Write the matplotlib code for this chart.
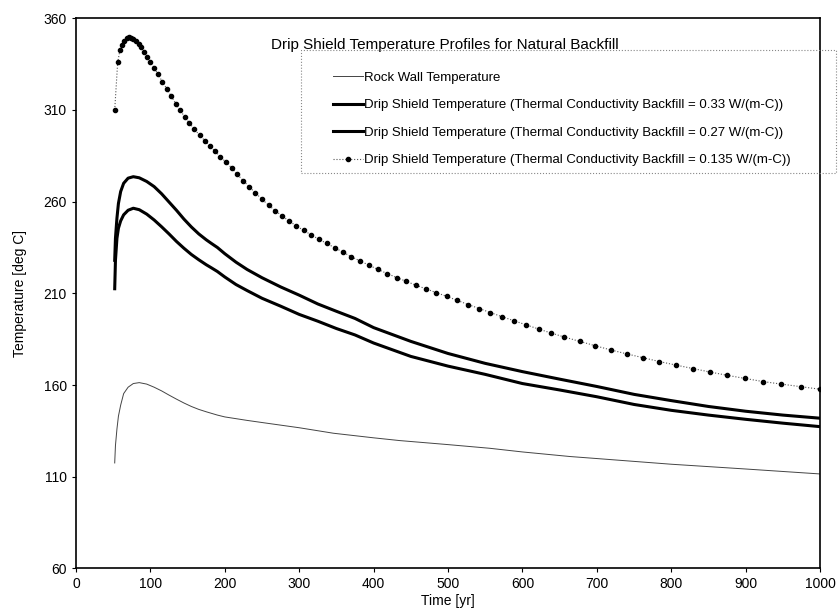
import matplotlib
matplotlib.use("Agg")
import matplotlib.pyplot as plt
from matplotlib.patches import Rectangle

plt.rcParams['font.family'] = ['Liberation Sans', 'DejaVu Sans']

# Rock wall temperature
t_rock = [52, 53, 55, 57, 60, 64, 70, 77, 85, 95, 105, 115, 125, 135, 145, 155, 165,
          175, 190, 200, 230, 256, 300, 346, 400, 435, 500, 556, 600, 664, 700, 800,
          900, 1000]
T_rock = [117.5, 127, 136, 143, 149, 155.3, 158.8, 160.8, 161.3, 160.5, 158.8, 156.8,
          154.5, 152.3, 150.2, 148.3, 146.7, 145.4, 143.6, 142.6, 140.7, 139.2, 136.7,
          133.7, 131.2, 129.7, 127.5, 125.5, 123.5, 121, 119.9, 116.8, 114.2, 111.5]

# drip shield, k = 0.33 and 0.27 (same time grid)
t_ds = [52, 53, 55, 57, 60, 64, 70, 77, 85, 95, 105, 115, 125, 135, 145, 155, 165, 175,
        182, 190, 200, 215, 230, 250, 275, 300, 325, 350, 375, 400, 450, 500, 550, 600,
        650, 700, 750, 800, 850, 900, 950, 1000]
T_033 = [212.5, 228, 240, 245.5, 249.5, 252.8, 255.3, 256.4, 255.6, 253.2, 250, 246.3,
         242.4, 238.3, 234.6, 231.2, 228.3, 225.6, 223.9, 221.9, 218.9, 214.8, 211.5,
         207.3, 203, 198.5, 194.8, 190.8, 187.3, 182.9, 175.6, 170.3, 165.8, 160.8,
         157.3, 153.6, 149.4, 146.2, 143.6, 141.3, 139.2, 137.3]
T_027 = [228, 240, 251, 259, 265.5, 270, 272.8, 273.6, 273, 271, 268.2, 264.3, 259.8,
         255.3, 250.5, 246.2, 242.4, 239.2, 237.2, 235.0, 231.6, 227, 223, 218.5, 213.5,
         209, 204.2, 200.2, 196.3, 191.3, 183.8, 177.2, 171.8, 167.3, 163.2, 159.2,
         154.9, 151.5, 148.3, 145.7, 143.6, 141.9]

# drip shield, k = 0.135 (one value per marker)
t_0135 = [52, 56, 59, 62, 65, 68, 71, 74, 77, 80, 84, 88, 92, 96, 100, 105, 110, 116,
          122, 128, 134, 140, 146, 152, 159, 166, 173, 180, 187, 194, 201, 209, 217,
          225, 233, 241, 250, 259, 268, 277, 286, 296, 306, 316, 326, 337, 348, 359,
          370, 382, 394, 406, 418, 431, 444, 457, 470, 484, 498, 512, 527, 542, 557,
          573, 589, 605, 622, 639, 656, 677, 698, 719, 740, 762, 784, 806, 829, 852,
          875, 899, 923, 948, 974, 1000]
T_0135 = [310, 336, 342.5, 345.5, 347.8, 349, 349.6, 349.5, 348.8, 347.8, 346.2, 344.2,
          341.8, 339, 336.3, 333, 329.5, 325.5, 321.5, 317.5, 313.5, 309.8, 306.3, 303,
          299.5, 296.3, 293.3, 290.3, 287.4, 284.5, 281.7, 278.5, 274.8, 271.3, 268,
          264.8, 261.3, 258, 255, 252.2, 249.5, 246.8, 244.3, 241.9, 239.6, 237.2,
          234.8, 232.4, 230, 227.6, 225.3, 223, 220.8, 218.6, 216.5, 214.4, 212.5,
          210.4, 208.4, 206.2, 203.9, 201.7, 199.5, 197.2, 195, 192.8, 190.5, 188.3,
          186.2, 183.8, 181.4, 179.1, 177, 174.9, 172.8, 170.9, 169, 167.1, 165.3,
          163.6, 161.9, 160.5, 159.1, 157.7]

fig = plt.figure(figsize=(8.4, 6.15), dpi=100)
ax = fig.add_axes([0.0905, 0.0758, 0.8857, 0.8945])

ax.plot(t_rock, T_rock, '-', color='#444444', lw=0.7, label='Rock Wall Temperature')
ax.plot(t_ds, T_033, '-', color='black', lw=2.2,
        label='Drip Shield Temperature (Thermal Conductivity Backfill = 0.33 W/(m-C))')
ax.plot(t_ds, T_027, '-', color='black', lw=2.2,
        label='Drip Shield Temperature (Thermal Conductivity Backfill = 0.27 W/(m-C))')
ax.plot(t_0135, T_0135, ':', color='#555555', lw=0.8, marker='o', ms=3.0,
        mfc='black', mec='black',
        label='Drip Shield Temperature (Thermal Conductivity Backfill = 0.135 W/(m-C))')

ax.set_xlim(0, 1000)
ax.set_ylim(60, 360)
ax.set_xticks(range(0, 1001, 100))
ax.set_yticks(range(60, 361, 50))
ax.tick_params(labelsize=10, length=3, width=0.8)
for s in ax.spines.values():
    s.set_linewidth(1.2)

ax.set_xlabel('Time [yr]', fontsize=10, labelpad=2)
ax.set_ylabel('Temperature [deg C]', fontsize=10, labelpad=12)
ax.text(0.496, 0.951, 'Drip Shield Temperature Profiles for Natural Backfill',
        transform=ax.transAxes, ha='center', va='center', fontsize=11)

# legend box (sticks out past the right edge of the plot, as in the original)
box = Rectangle((0.302, 0.719), 0.7195, 0.223, transform=ax.transAxes,
                fill=False, edgecolor='#888888', linestyle=':', linewidth=0.8,
                clip_on=False, zorder=4)
ax.add_patch(box)
leg = ax.legend(loc='upper left', bbox_to_anchor=(0.345, 0.903),
                fontsize=9.5, frameon=False, handlelength=2.3, handletextpad=0.1,
                borderaxespad=0, borderpad=0, labelspacing=1.16)

fig.savefig('out.png', dpi=100)
